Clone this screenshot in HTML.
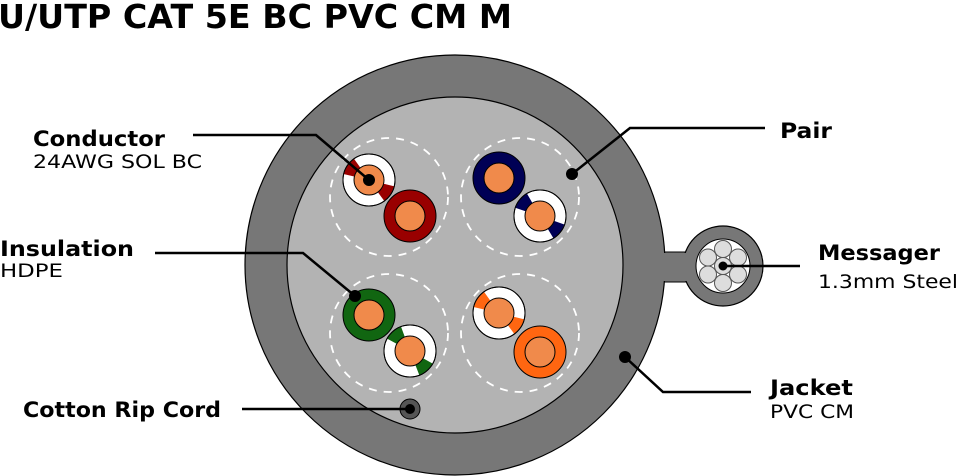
<!DOCTYPE html>
<html><head><meta charset="utf-8"><style>
html,body{margin:0;padding:0;background:#fff;}
svg{display:block;font-family:"DejaVu Sans","Liberation Sans",sans-serif;}
.b{font-weight:bold;font-size:21px;}
.n{font-size:19px;}
</style></head><body>
<svg width="958" height="476" viewBox="0 0 958 476">
<text x="-2" y="28" font-weight="bold" font-size="33" textLength="514" lengthAdjust="spacingAndGlyphs">U/UTP CAT 5E BC PVC CM M</text>
<rect x="640" y="252" width="60" height="30" fill="#777" stroke="#000" stroke-width="1"/>
<circle cx="455" cy="265" r="210" fill="#777" stroke="#000" stroke-width="1.2"/>
<rect x="655" y="253" width="40" height="28" fill="#777"/>
<circle cx="723" cy="266" r="40" fill="#777" stroke="#000" stroke-width="1.2"/>
<rect x="680" y="253" width="12" height="28" fill="#777"/>
<circle cx="723" cy="266" r="27" fill="#fff" stroke="#000" stroke-width="1"/>
<g fill="#ddd" stroke="#555" stroke-width="1">
<circle cx="723" cy="249" r="8.5"/><circle cx="738" cy="257.5" r="8.5"/><circle cx="738" cy="274.5" r="8.5"/>
<circle cx="723" cy="283" r="8.5"/><circle cx="708" cy="274.5" r="8.5"/><circle cx="708" cy="257.5" r="8.5"/>
<circle cx="723" cy="266" r="8.5"/>
</g>
<circle cx="723" cy="266" r="4.5" fill="#000"/>
<circle cx="455" cy="265" r="168" fill="#b3b3b3" stroke="#000" stroke-width="1.2"/>
<g fill="none" stroke="#fff" stroke-width="1.8" stroke-dasharray="8 7">
<circle cx="389" cy="197" r="59"/><circle cx="520" cy="197" r="59"/>
<circle cx="389" cy="333" r="59"/><circle cx="520" cy="333" r="59"/>
</g>
<g stroke="#000" stroke-width="1">
<circle cx="369" cy="180" r="26" fill="#fff"/>
<circle cx="410" cy="216" r="26" fill="#990000"/>
<circle cx="499" cy="178" r="26" fill="#000055"/>
<circle cx="540" cy="216" r="26" fill="#fff"/>
<circle cx="369" cy="315" r="26" fill="#116611"/>
<circle cx="410" cy="351" r="26" fill="#fff"/>
<circle cx="499" cy="313" r="26" fill="#fff"/>
<circle cx="540" cy="352" r="26" fill="#ff6611"/>
</g>
<g fill="none" stroke-width="10.5" stroke-dasharray="40 140">
<circle cx="369" cy="180" r="20.5" stroke="#990000" pathLength="360" transform="rotate(195 369 180)"/>
<circle cx="540" cy="216" r="20.5" stroke="#000055" pathLength="360" transform="rotate(200 540 216)"/>
<circle cx="410" cy="351" r="20.5" stroke="#116611" pathLength="360" transform="rotate(210 410 351)"/>
<circle cx="499" cy="313" r="20.5" stroke="#ff6611" pathLength="360" transform="rotate(195 499 313)"/>
</g>
<g fill="none" stroke="#000" stroke-width="1">
<circle cx="369" cy="180" r="26"/><circle cx="540" cy="216" r="26"/><circle cx="410" cy="351" r="26"/><circle cx="499" cy="313" r="26"/>
</g>
<g fill="#f08a4b" stroke="#000" stroke-width="1">
<circle cx="369" cy="180" r="15"/><circle cx="410" cy="216" r="15"/>
<circle cx="499" cy="178" r="15"/><circle cx="540" cy="216" r="15"/>
<circle cx="369" cy="315" r="15"/><circle cx="410" cy="351" r="15"/>
<circle cx="499" cy="313" r="15"/><circle cx="540" cy="352" r="15"/>
</g>
<circle cx="410" cy="409" r="10" fill="#555" stroke="#000" stroke-width="1"/>
<circle cx="410" cy="409" r="5" fill="#000"/>
<g fill="none" stroke="#000" stroke-width="2.5">
<polyline points="193,135 316,135 369,180"/>
<polyline points="572,174 630,128 765,128"/>
<polyline points="155,253 303,253 355,296"/>
<polyline points="723,266 800,266"/>
<polyline points="625,357 663,392 751,392"/>
<polyline points="242,409 410,409"/>
</g>
<g fill="#000">
<circle cx="369" cy="180" r="6"/><circle cx="572" cy="174" r="6"/>
<circle cx="355" cy="296" r="6"/><circle cx="625" cy="357" r="6"/>
</g>
<text x="33" y="146" class="b" textLength="132" lengthAdjust="spacingAndGlyphs">Conductor</text>
<text x="33" y="168" class="n" textLength="169" lengthAdjust="spacingAndGlyphs">24AWG SOL BC</text>
<text x="0" y="256" class="b" textLength="134" lengthAdjust="spacingAndGlyphs">Insulation</text>
<text x="0" y="277" class="n" textLength="63" lengthAdjust="spacingAndGlyphs">HDPE</text>
<text x="23" y="417" class="b" textLength="198" lengthAdjust="spacingAndGlyphs">Cotton Rip Cord</text>
<text x="780" y="138" class="b" textLength="52" lengthAdjust="spacingAndGlyphs">Pair</text>
<text x="818" y="260" class="b" textLength="122" lengthAdjust="spacingAndGlyphs">Messager</text>
<text x="818" y="288" class="n" textLength="140" lengthAdjust="spacingAndGlyphs">1.3mm Steel</text>
<text x="770" y="395" class="b" textLength="83" lengthAdjust="spacingAndGlyphs">Jacket</text>
<text x="770" y="418" class="n" textLength="84" lengthAdjust="spacingAndGlyphs">PVC CM</text>
</svg>
</body></html>
